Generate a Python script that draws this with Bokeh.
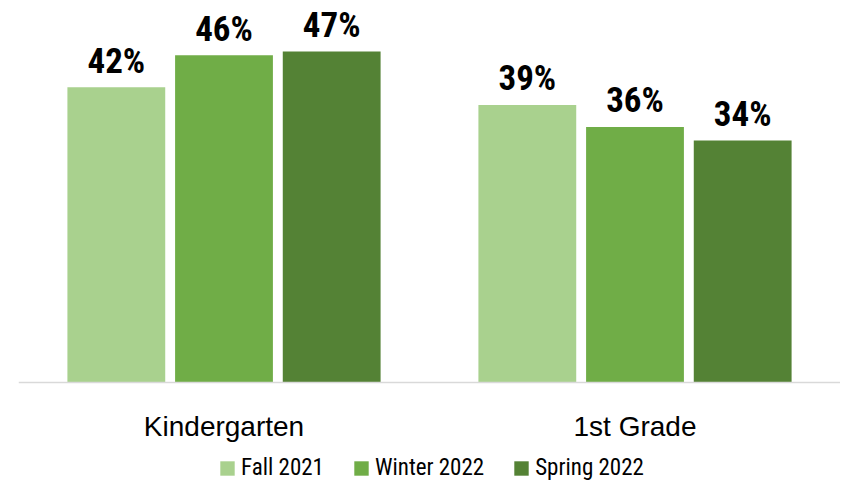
import math
from bokeh.plotting import figure
from bokeh.models import ColumnDataSource, FactorRange, Range1d, Legend, LegendItem, Span
from bokeh.transform import dodge
from bokeh.core.properties import value
from bokeh.embed import file_html
from bokeh.resources import INLINE

categories = ["Kindergarten", "1st Grade"]
series_names = ["Fall 2021", "Winter 2022", "Spring 2022"]
fall_2021 = [41.6, 39.1]
winter_2022 = [46.1, 36.0]
spring_2022 = [46.6, 34.1]
series_values = [fall_2021, winter_2022, spring_2022]
colors = ["#A9D18E", "#70AD47", "#548235"]

NARROW = "Roboto Condensed"
BAR_W = 0.238
STEP = 0.262
offsets = [-STEP, 0.0, STEP]

p = figure(
    width=840, height=481,
    x_range=FactorRange(factors=categories, range_padding=0, start=0.0012, end=1.977),
    y_range=Range1d(-13.94, 53.8),
    output_backend="svg", toolbar_location=None,
    min_border_left=18, min_border_right=0, min_border_top=0, min_border_bottom=0,
)
p.outline_line_color = None
p.background_fill_color = "white"
p.border_fill_color = "white"
p.xgrid.visible = False
p.ygrid.visible = False
p.xaxis.visible = False
p.yaxis.visible = False

# category baseline
p.add_layout(Span(location=0, dimension="width", line_color="#D9D9D9", line_width=1.5))

# category labels
cat_src = ColumnDataSource(dict(cat=categories, y=[0] * len(categories)))
p.text(x="cat", y="y", text="cat", source=cat_src,
       text_align="center", text_baseline="alphabetic", y_offset=44,
       text_font=value("Liberation Sans"), text_font_size="28px", text_color="#000000")

items = []
for name, vals, col, off in zip(series_names, series_values, colors, offsets):
    src = ColumnDataSource(dict(
        cat=categories, val=vals,
        lbl=[f"{math.floor(v + 0.5)}%" for v in vals],
    ))
    r = p.vbar(x=dodge("cat", off, range=p.x_range), top="val", width=BAR_W,
               source=src, fill_color=col, line_color=None)
    p.text(x=dodge("cat", off, range=p.x_range), y="val", text="lbl", source=src,
           text_align="center", text_baseline="alphabetic", y_offset=-26,
           text_font=value(NARROW), text_font_style="bold",
           text_font_size="35px", text_color="#000000")
    items.append(LegendItem(label=name, renderers=[r]))

legend = Legend(
    items=items, orientation="horizontal", location=(200, 0),
    glyph_width=18, glyph_height=18, label_standoff=5, spacing=28,
    padding=0, margin=0, border_line_alpha=0, background_fill_alpha=0,
    label_text_font=NARROW, label_text_font_size="23px",
    label_text_color="#000000",
)
p.add_layout(legend, "center")

open("out.html", "w").write(file_html(p, INLINE))
